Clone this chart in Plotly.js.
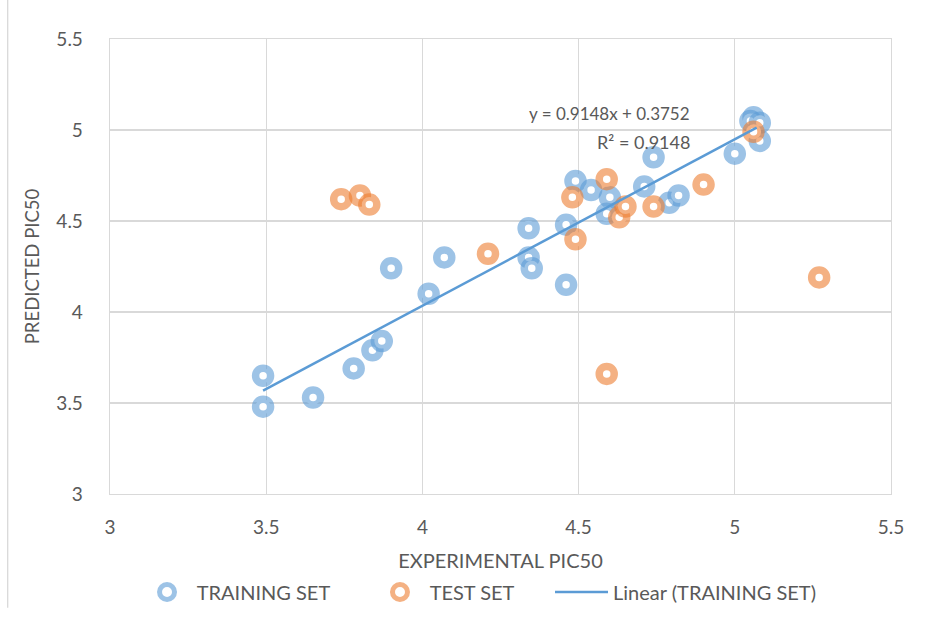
<!DOCTYPE html>
<html>
<head>
<meta charset="utf-8">
<script src="https://cdn.plot.ly/plotly-3.0.1.min.js"></script>
<style>html,body{margin:0;padding:0;background:#fff;}#chart{width:946px;height:625px;}</style>
</head>
<body>
<div id="chart"></div>
<script>
// Training set (blue)
const trainX = [3.49, 3.49, 3.65, 3.78, 3.84, 3.87, 3.90, 4.02, 4.07, 4.34, 4.34, 4.35, 4.46, 4.46, 4.49, 4.54, 4.60, 4.59, 4.74, 4.71, 4.79, 4.82, 5.00, 5.06, 5.05, 5.08, 5.08];
const trainY = [3.65, 3.48, 3.53, 3.69, 3.79, 3.84, 4.24, 4.10, 4.30, 4.46, 4.30, 4.24, 4.15, 4.48, 4.72, 4.67, 4.63, 4.54, 4.85, 4.69, 4.60, 4.64, 4.87, 5.07, 5.05, 5.04, 4.94];
// Test set (orange)
const testX = [3.74, 3.80, 3.83, 4.21, 4.48, 4.49, 4.59, 4.63, 4.65, 4.74, 4.90, 5.06, 4.59, 5.27];
const testY = [4.62, 4.64, 4.59, 4.32, 4.63, 4.40, 4.73, 4.52, 4.58, 4.58, 4.70, 4.99, 3.66, 4.19];
// Linear trendline of training set: y = slope*x + intercept
const slope = 0.9148;
const intercept = 0.3752;
const trendX = [3.49, 5.07];
const trendY = trendX.map(x => slope * x + intercept);
const eqText = "y = 0.9148x + 0.3752";
const r2Text = "R² = 0.9148";
const xTicks = [3, 3.5, 4, 4.5, 5, 5.5];
const yTicks = [3, 3.5, 4, 4.5, 5, 5.5];
const seriesNames = ['TRAINING SET', 'TEST SET', 'Linear (TRAINING SET)'];

const FONT = "Lato, 'Open Sans', sans-serif";
const TXT = "#595959";
const GRID = "#D9D9D9";
const NB = "\u00A0\u00A0";

const traces = [
  {x: trainX, y: trainY, mode: 'markers', type: 'scatter', name: NB + seriesNames[0], legend: 'legend',
   marker: {size: 15, color: '#ffffff', line: {color: 'rgba(91,155,213,0.6)', width: 7.5}}},
  {x: testX, y: testY, mode: 'markers', type: 'scatter', name: NB + seriesNames[1], legend: 'legend2',
   marker: {size: 15, color: '#ffffff', line: {color: 'rgba(237,125,49,0.6)', width: 7.5}}},
  {x: trendX, y: trendY, mode: 'lines', type: 'scatter', name: seriesNames[2], legend: 'legend3',
   line: {color: '#5B9BD5', width: 2.5}}
];

const legFont = {family: FONT, size: 20, color: TXT};
const legY = -0.2154;
const layout = {
  width: 946, height: 625,
  margin: {l: 110, r: 55, t: 39, b: 131},
  paper_bgcolor: '#ffffff', plot_bgcolor: '#ffffff',
  font: {family: FONT, color: TXT, size: 18},
  showlegend: true,
  legend: {orientation: 'h', x: 0.0474, xanchor: 'left', y: legY, yanchor: 'middle', font: legFont, bgcolor: 'rgba(0,0,0,0)'},
  legend2: {orientation: 'h', x: 0.3457, xanchor: 'left', y: legY, yanchor: 'middle', font: legFont, bgcolor: 'rgba(0,0,0,0)'},
  legend3: {orientation: 'h', x: 0.5634, xanchor: 'left', y: legY, yanchor: 'middle', font: legFont, itemwidth: 53, bgcolor: 'rgba(0,0,0,0)'},
  xaxis: {range: [3, 5.5], tickvals: xTicks, ticktext: xTicks.map(String),
          showgrid: true, gridcolor: GRID, gridwidth: 1.3, zeroline: false,
          showline: true, linecolor: GRID, linewidth: 1.3, mirror: true,
          ticks: 'outside', ticklen: 16, tickcolor: 'rgba(0,0,0,0)',
          tickfont: {family: FONT, size: 19, color: TXT},
          title: {text: 'EXPERIMENTAL PIC50', font: {family: FONT, size: 20, color: TXT}, standoff: 17}},
  yaxis: {range: [3, 5.5], tickvals: yTicks, ticktext: yTicks.map(String),
          showgrid: true, gridcolor: GRID, gridwidth: 1.3, zeroline: false,
          showline: true, linecolor: GRID, linewidth: 1.3, mirror: true,
          ticks: 'outside', ticklen: 22, tickcolor: 'rgba(0,0,0,0)',
          tickfont: {family: FONT, size: 19, color: TXT},
          title: {text: 'PREDICTED PIC50', font: {family: FONT, size: 18.5, color: TXT}, standoff: 12}},
  annotations: [
    {x: 4.863, y: 5.093, xref: 'x', yref: 'y', text: eqText, showarrow: false, xanchor: 'right', yanchor: 'middle',
     font: {family: FONT, size: 17, color: TXT}},
    {x: 4.863, y: 4.934, xref: 'x', yref: 'y', text: r2Text, showarrow: false, xanchor: 'right', yanchor: 'middle',
     font: {family: FONT, size: 18, color: TXT}}
  ],
  shapes: [
    {type: 'line', xref: 'paper', yref: 'paper', x0: -0.131, x1: -0.131, y0: 1.086, y1: -0.25,
     line: {color: GRID, width: 1.3}}
  ]
};

Plotly.newPlot('chart', traces, layout, {displayModeBar: false, staticPlot: true});
</script>
</body>
</html>
